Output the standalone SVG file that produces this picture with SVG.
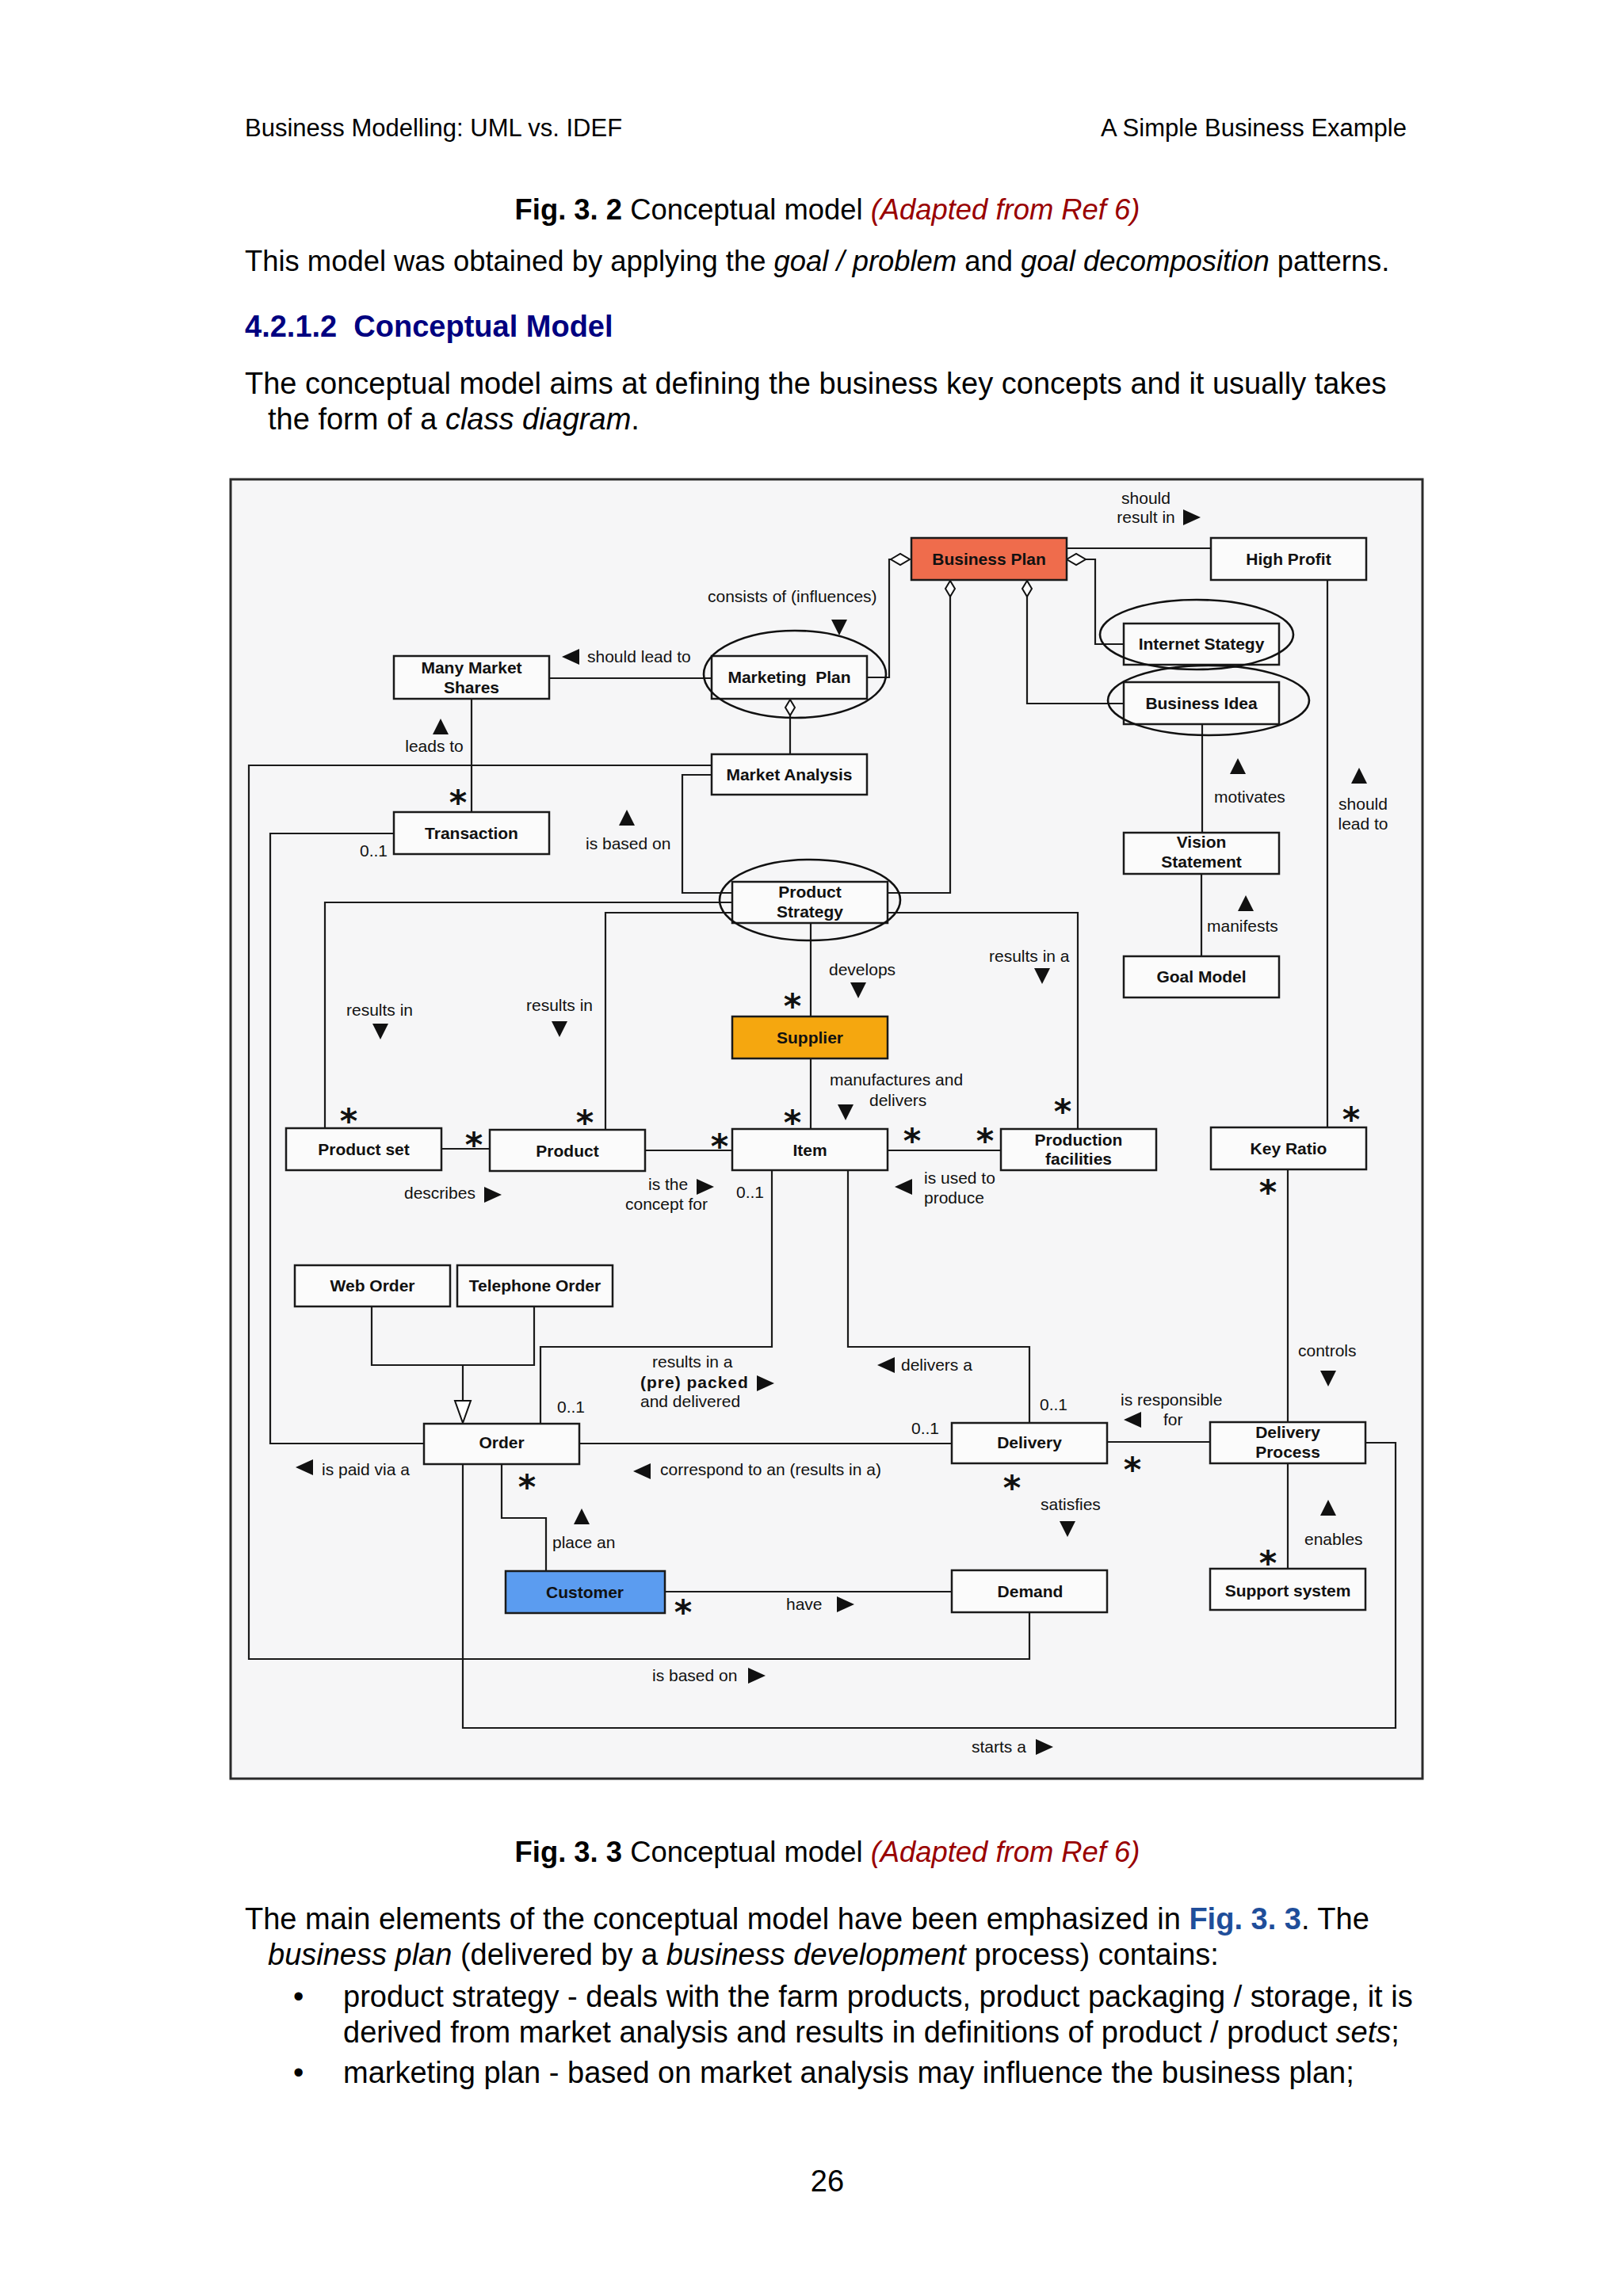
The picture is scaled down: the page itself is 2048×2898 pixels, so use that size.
<svg xmlns="http://www.w3.org/2000/svg" width="2048" height="2898" viewBox="0 0 2048 2898">
<style>
.pg{font-family:"Liberation Sans",Arial,sans-serif;font-size:38px;fill:#000}
.hd{font-family:"Liberation Sans",Arial,sans-serif;font-size:31px;fill:#000}
.box{fill:#fbfbfb;stroke:#1a1a1a;stroke-width:2.5}
.ln{fill:none;stroke:#1a1a1a;stroke-width:2.2}
.ell{fill:none;stroke:#111;stroke-width:2.6}
.nl{font-family:"Liberation Sans",Arial,sans-serif;font-weight:bold;font-size:21px;text-anchor:middle;fill:#111}
.lb{font-family:"Liberation Sans",Arial,sans-serif;font-size:21px;fill:#111}
.lm{font-family:"Liberation Sans",Arial,sans-serif;font-size:21px;fill:#111;text-anchor:middle}
.st{font-family:"DejaVu Sans",sans-serif;font-weight:bold;font-size:43px;fill:#111;text-anchor:middle}
.tri{fill:#111}
.dia{fill:#fff;stroke:#111;stroke-width:2}
</style>
<defs>
<path id="tR" d="M-11,-10 L11,0 L-11,10Z"/>
<path id="tL" d="M11,-10 L-11,0 L11,10Z"/>
<path id="tU" d="M-10,10 L0,-10 L10,10Z"/>
<path id="tD" d="M-10,-10 L0,10 L10,-10Z"/>
<path id="dH" d="M0,0 L12,-7 L24,0 L12,7Z"/>
<path id="dV" d="M0,0 L-6,10 L0,20 L6,10Z"/>
</defs>
<rect width="2048" height="2898" fill="#fff"/>

<!-- page text -->
<text class="hd" x="309" y="172">Business Modelling: UML vs. IDEF</text>
<text class="hd" x="1775" y="172" text-anchor="end">A Simple Business Example</text>
<text class="pg" x="1044" y="277" text-anchor="middle" style="font-size:36.4px"><tspan font-weight="bold">Fig. 3. 2</tspan> Conceptual model <tspan font-style="italic" fill="#990000">(Adapted from Ref 6)</tspan></text>
<text class="pg" x="309" y="342" style="font-size:36.4px">This model was obtained by applying the <tspan font-style="italic">goal / problem</tspan> and <tspan font-style="italic">goal decomposition</tspan> patterns.</text>
<text class="pg" x="309" y="425" font-weight="bold" style="fill:#000080">4.2.1.2&#160; Conceptual Model</text>
<text class="pg" x="309" y="497">The conceptual model aims at defining the business key concepts and it usually takes</text>
<text class="pg" x="338" y="542">the form of a <tspan font-style="italic">class diagram</tspan>.</text>

<!-- diagram frame -->
<rect x="291" y="605" width="1504" height="1640" fill="#f6f6f7" stroke="#2a2a2a" stroke-width="3"/>

<g id="connectors">
<path class="ln" d="M1346,692 H1528"/>
<path class="ln" d="M1124,706 H1122 V855 H1094"/>
<path class="ln" d="M1199,753 V1127 H1120"/>
<path class="ln" d="M1296,753 V888 H1418"/>
<path class="ln" d="M1370,706 H1382 V813 H1418"/>
<path class="ln" d="M693,856 H898"/>
<path class="ln" d="M997,903 V952"/>
<path class="ln" d="M595,882 V1025"/>
<path class="ln" d="M497,1052 H341 V1822 H535"/>
<path class="ln" d="M898,966 H314 V2094 H1299 V2035"/>
<path class="ln" d="M898,978 H861 V1127 H924"/>
<path class="ln" d="M410,1424 V1139 H924"/>
<path class="ln" d="M764,1426 V1152 H924"/>
<path class="ln" d="M1120,1152 H1360 V1425"/>
<path class="ln" d="M1023,1165 V1283"/>
<path class="ln" d="M1023,1336 V1425"/>
<path class="ln" d="M1517,914 V1051"/>
<path class="ln" d="M1516,1103 V1207"/>
<path class="ln" d="M1675,732 V1423"/>
<path class="ln" d="M557,1450 H618"/>
<path class="ln" d="M814,1452 H924"/>
<path class="ln" d="M1120,1452 H1263"/>
<path class="ln" d="M974,1477 V1700 H682 V1797"/>
<path class="ln" d="M1070,1477 V1700 H1299 V1796"/>
<path class="ln" d="M469,1649 V1723 H674 V1649"/>
<path class="ln" d="M584,1723 V1768"/>
<path d="M574,1768 L594,1768 L584,1796Z" fill="#fff" stroke="#111" stroke-width="2"/>
<path class="ln" d="M731,1822 H1201"/>
<path class="ln" d="M1397,1820 H1527"/>
<path class="ln" d="M1625,1476 V1795"/>
<path class="ln" d="M1625,1847 V1980"/>
<path class="ln" d="M633,1848 V1916 H689 V1983"/>
<path class="ln" d="M839,2009 H1201"/>
<path class="ln" d="M584,1848 V2181 H1761 V1821 H1723"/>
<use href="#dH" class="dia" x="1124" y="706"/>
<use href="#dH" class="dia" x="1346" y="706"/>
<use href="#dV" class="dia" x="1199" y="733"/>
<use href="#dV" class="dia" x="1296" y="733"/>
<use href="#dV" class="dia" x="997" y="883"/>
</g>

<g id="n-business-plan"><rect class="box" x="1150" y="679" width="196" height="53" style="fill:#EF6C4C"/><text class="nl" x="1248" y="713">Business Plan</text></g>
<g id="n-high-profit"><rect class="box" x="1528" y="679" width="196" height="53"/><text class="nl" x="1626" y="713">High Profit</text></g>
<g id="n-many-market-shares"><rect class="box" x="497" y="828" width="196" height="54"/><text class="nl" x="595" y="850">Many Market</text><text class="nl" x="595" y="875">Shares</text></g>
<g id="n-marketing-plan"><rect class="box" x="898" y="828" width="196" height="54"/><text class="nl" x="996" y="862">Marketing&#160; Plan</text><ellipse class="ell" cx="1003" cy="851" rx="115" ry="55"/></g>
<g id="n-market-analysis"><rect class="box" x="898" y="952" width="196" height="51"/><text class="nl" x="996" y="985">Market Analysis</text></g>
<g id="n-internet-stategy"><rect class="box" x="1418" y="787" width="196" height="52"/><text class="nl" x="1516" y="820">Internet Stategy</text><ellipse class="ell" cx="1510" cy="801" rx="122" ry="44"/></g>
<g id="n-business-idea"><rect class="box" x="1418" y="861" width="196" height="53"/><text class="nl" x="1516" y="895">Business Idea</text><ellipse class="ell" cx="1525" cy="884" rx="127" ry="44"/></g>
<g id="n-vision-statement"><rect class="box" x="1418" y="1051" width="196" height="52"/><text class="nl" x="1516" y="1070">Vision</text><text class="nl" x="1516" y="1095">Statement</text></g>
<g id="n-goal-model"><rect class="box" x="1418" y="1207" width="196" height="52"/><text class="nl" x="1516" y="1240">Goal Model</text></g>
<g id="n-transaction"><rect class="box" x="497" y="1025" width="196" height="53"/><text class="nl" x="595" y="1059">Transaction</text></g>
<g id="n-product-strategy"><rect class="box" x="924" y="1113" width="196" height="52"/><text class="nl" x="1022" y="1133">Product</text><text class="nl" x="1022" y="1158">Strategy</text><ellipse class="ell" cx="1022" cy="1136" rx="114" ry="51"/></g>
<g id="n-supplier"><rect class="box" x="924" y="1283" width="196" height="53" style="fill:#F5A70F"/><text class="nl" x="1022" y="1317">Supplier</text></g>
<g id="n-product-set"><rect class="box" x="361" y="1424" width="196" height="53"/><text class="nl" x="459" y="1458">Product set</text></g>
<g id="n-product"><rect class="box" x="618" y="1426" width="196" height="52"/><text class="nl" x="716" y="1460">Product</text></g>
<g id="n-item"><rect class="box" x="924" y="1425" width="196" height="52"/><text class="nl" x="1022" y="1459">Item</text></g>
<g id="n-production-facilities"><rect class="box" x="1263" y="1425" width="196" height="52"/><text class="nl" x="1361" y="1446">Production</text><text class="nl" x="1361" y="1470">facilities</text></g>
<g id="n-key-ratio"><rect class="box" x="1528" y="1423" width="196" height="53"/><text class="nl" x="1626" y="1457">Key Ratio</text></g>
<g id="n-web-order"><rect class="box" x="372" y="1597" width="196" height="52"/><text class="nl" x="470" y="1630">Web Order</text></g>
<g id="n-telephone-order"><rect class="box" x="577" y="1597" width="196" height="52"/><text class="nl" x="675" y="1630">Telephone Order</text></g>
<g id="n-order"><rect class="box" x="535" y="1797" width="196" height="51"/><text class="nl" x="633" y="1828">Order</text></g>
<g id="n-delivery"><rect class="box" x="1201" y="1796" width="196" height="51"/><text class="nl" x="1299" y="1828">Delivery</text></g>
<g id="n-delivery-process"><rect class="box" x="1527" y="1795" width="196" height="52"/><text class="nl" x="1625" y="1815">Delivery</text><text class="nl" x="1625" y="1840">Process</text></g>
<g id="n-customer"><rect class="box" x="638" y="1983" width="201" height="53" style="fill:#5B9CF0"/><text class="nl" x="738" y="2017">Customer</text></g>
<g id="n-demand"><rect class="box" x="1201" y="1982" width="196" height="53"/><text class="nl" x="1300" y="2016">Demand</text></g>
<g id="n-support-system"><rect class="box" x="1527" y="1980" width="196" height="52"/><text class="nl" x="1625" y="2015">Support system</text></g>

<g id="labels">
<text class="lm" x="1446" y="636">should</text>
<text class="lm" x="1446" y="660">result in</text>
<use href="#tR" class="tri" x="1504" y="653"/>
<text class="lb" x="893" y="760">consists of (influences)</text>
<use href="#tD" class="tri" x="1059" y="792"/>
<use href="#tL" class="tri" x="720" y="829"/>
<text class="lb" x="741" y="836">should lead to</text>
<use href="#tU" class="tri" x="556" y="917"/>
<text class="lm" x="548" y="949">leads to</text>
<use href="#tU" class="tri" x="791" y="1032"/>
<text class="lb" x="739" y="1072">is based on</text>
<text class="lb" x="454" y="1081">0..1</text>
<use href="#tU" class="tri" x="1562" y="967"/>
<text class="lb" x="1532" y="1013">motivates</text>
<use href="#tU" class="tri" x="1715" y="979"/>
<text class="lm" x="1720" y="1022">should</text>
<text class="lm" x="1720" y="1047">lead to</text>
<use href="#tU" class="tri" x="1572" y="1140"/>
<text class="lb" x="1523" y="1176">manifests</text>
<text class="lb" x="1046" y="1231">develops</text>
<use href="#tD" class="tri" x="1083" y="1250"/>
<text class="lb" x="1248" y="1214">results in a</text>
<use href="#tD" class="tri" x="1315" y="1232"/>
<text class="lb" x="437" y="1282">results in</text>
<use href="#tD" class="tri" x="480" y="1302"/>
<text class="lb" x="664" y="1276">results in</text>
<use href="#tD" class="tri" x="706" y="1299"/>
<text class="lb" x="1047" y="1370">manufactures and</text>
<text class="lb" x="1097" y="1396">delivers</text>
<use href="#tD" class="tri" x="1067" y="1404"/>
<text class="lb" x="510" y="1513">describes</text>
<use href="#tR" class="tri" x="622" y="1508"/>
<text class="lb" x="818" y="1502">is the</text>
<use href="#tR" class="tri" x="890" y="1498"/>
<text class="lb" x="789" y="1527">concept for</text>
<text class="lb" x="929" y="1512">0..1</text>
<use href="#tL" class="tri" x="1140" y="1498"/>
<text class="lb" x="1166" y="1494">is used to</text>
<text class="lb" x="1166" y="1519">produce</text>
<text class="lb" x="703" y="1783">0..1</text>
<text class="lb" x="823" y="1726">results in a</text>
<text class="lb" x="808" y="1752" font-weight="bold" letter-spacing="1">(pre) packed</text>
<text class="lb" x="808" y="1776">and delivered</text>
<use href="#tR" class="tri" x="966" y="1746"/>
<use href="#tL" class="tri" x="1118" y="1723"/>
<text class="lb" x="1137" y="1730">delivers a</text>
<text class="lb" x="1312" y="1780">0..1</text>
<text class="lb" x="1150" y="1810">0..1</text>
<text class="lb" x="1414" y="1774">is responsible</text>
<use href="#tL" class="tri" x="1429" y="1792"/>
<text class="lb" x="1468" y="1799">for</text>
<text class="lb" x="1638" y="1712">controls</text>
<use href="#tD" class="tri" x="1676" y="1740"/>
<use href="#tL" class="tri" x="384" y="1852"/>
<text class="lb" x="406" y="1862">is paid via a</text>
<use href="#tL" class="tri" x="810" y="1857"/>
<text class="lb" x="833" y="1862">correspond to an (results in a)</text>
<text class="lb" x="1313" y="1906">satisfies</text>
<use href="#tD" class="tri" x="1347" y="1930"/>
<use href="#tU" class="tri" x="734" y="1914"/>
<text class="lb" x="697" y="1954">place an</text>
<use href="#tU" class="tri" x="1676" y="1903"/>
<text class="lb" x="1646" y="1950">enables</text>
<text class="lb" x="992" y="2032">have</text>
<use href="#tR" class="tri" x="1067" y="2025"/>
<text class="lb" x="823" y="2122">is based on</text>
<use href="#tR" class="tri" x="955" y="2115"/>
<text class="lb" x="1226" y="2212">starts a</text>
<use href="#tR" class="tri" x="1318" y="2205"/>
<text class="st" x="578" y="1028">*</text>
<text class="st" x="1000" y="1285">*</text>
<text class="st" x="1000" y="1432">*</text>
<text class="st" x="908" y="1462">*</text>
<text class="st" x="1151" y="1455">*</text>
<text class="st" x="1243" y="1455">*</text>
<text class="st" x="1341" y="1418">*</text>
<text class="st" x="440" y="1430">*</text>
<text class="st" x="738" y="1432">*</text>
<text class="st" x="598" y="1460">*</text>
<text class="st" x="1705" y="1428">*</text>
<text class="st" x="1600" y="1520">*</text>
<text class="st" x="1429" y="1870">*</text>
<text class="st" x="665" y="1892">*</text>
<text class="st" x="1277" y="1893">*</text>
<text class="st" x="1600" y="1988">*</text>
<text class="st" x="862" y="2050">*</text>
</g>

<!-- page text below -->
<text class="pg" x="1044" y="2350" text-anchor="middle" style="font-size:36.4px"><tspan font-weight="bold">Fig. 3. 3</tspan> Conceptual model <tspan font-style="italic" fill="#990000">(Adapted from Ref 6)</tspan></text>
<text class="pg" x="309" y="2435">The main elements of the conceptual model have been emphasized in <tspan font-weight="bold" fill="#1f4e9a">Fig. 3. 3</tspan>. The</text>
<text class="pg" x="338" y="2480"><tspan font-style="italic">business plan</tspan> (delivered by a <tspan font-style="italic">business development</tspan> process) contains:</text>
<text class="pg" x="370" y="2533">•</text>
<text class="pg" x="433" y="2533">product strategy - deals with the farm products, product packaging / storage, it is</text>
<text class="pg" x="433" y="2578">derived from market analysis and results in definitions of product / product <tspan font-style="italic">sets</tspan>;</text>
<text class="pg" x="370" y="2629">•</text>
<text class="pg" x="433" y="2629">marketing plan - based on market analysis may influence the business plan;</text>
<text class="pg" x="1044" y="2766" text-anchor="middle">26</text>
</svg>
